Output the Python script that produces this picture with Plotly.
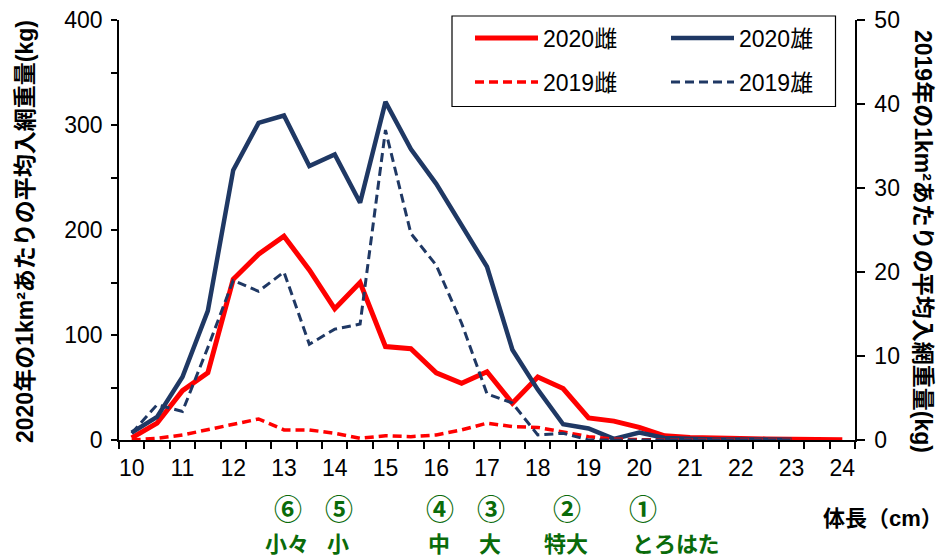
import plotly.graph_objects as go

# ---- data ----
length_cm = [10, 10.5, 11, 11.5, 12, 12.5, 13, 13.5, 14, 14.5, 15, 15.5, 16, 16.5,
             17, 17.5, 18, 18.5, 19, 19.5, 20, 20.5, 21, 21.5, 22, 22.5, 23, 23.5, 24]

female_2020 = [2, 16, 47, 64, 153, 177, 194, 162, 125, 150, 89, 87, 64, 54,
               65, 35, 60, 49, 21, 18, 12, 4, 2.5, 2.5, 1.5, 1, 0.5, 0.5, 0.3]
male_2020 = [7, 22, 60, 123, 257, 302, 309, 261, 272, 226, 322, 277, 244, 204,
             165, 86, 48, 15, 11, 1, 7, 2, 1, 0.5, 0.5, 0.3, 0.3, None, None]
female_2019 = [0, 0.2, 0.6, 1.2, 1.9, 2.5, 1.2, 1.2, 0.8, 0.2, 0.5, 0.4, 0.6, 1.2,
               2.0, 1.6, 1.5, 1.0, 0.4, 0.1, 0, 0, 0, 0, 0, 0, 0, None, None]
male_2019 = [0.8, 4.2, 3.4, 11, 19.0, 17.7, 20.0, 11.4, 13.2, 13.8, 36.9, 24.6, 20.8, 13.9,
             5.5, 4.4, 0.6, 0.8, 0, 0, 0, 0, 0, 0, 0, 0, 0, None, None]

x_ticks = list(range(10, 25))
x_labels = [str(v) for v in x_ticks]
y1_ticks = list(range(0, 401, 50))
y1_labels = [str(v) if v % 100 == 0 else "" for v in y1_ticks]
y2_ticks = list(range(0, 51, 10))
y2_labels = [str(v) for v in y2_ticks]

size_marks = ["⑥", "⑤", "④", "③", "②", "①"]
size_names = ["小々", "小", "中", "大", "特大", "とろはた"]
size_x = [13, 14, 16, 17, 18.5, 20]

RED = "#FF0000"
NAVY = "#1F3864"
GREEN = "#0A6B0A"
LATIN = "Liberation Sans, Arial, Noto Sans CJK JP, sans-serif"
CJK = "Liberation Sans, Noto Sans CJK JP, sans-serif"

fig = go.Figure()
fig.add_trace(go.Scatter(x=length_cm, y=female_2020, name="2020雌", mode="lines",
                         line=dict(color=RED, width=5), yaxis="y", legend="legend"))
fig.add_trace(go.Scatter(x=length_cm, y=male_2020, name="2020雄", mode="lines",
                         line=dict(color=NAVY, width=4.5), yaxis="y", legend="legend"))
fig.add_trace(go.Scatter(x=length_cm, y=female_2019, name="2019雌", mode="lines",
                         line=dict(color=RED, width=3.5, dash="9px,5px"), yaxis="y2", legend="legend2"))
fig.add_trace(go.Scatter(x=length_cm, y=male_2019, name="2019雄", mode="lines",
                         line=dict(color=NAVY, width=3, dash="9px,5px"), yaxis="y2", legend="legend2"))

W, H = 942, 559
L, R, T, B = 119, 87, 20, 119
pw, ph = W - L - R, H - T - B


def px_x(p):
    return (p - L) / pw


def px_y(p):
    return (H - B - p) / ph


annotations = [
    dict(text="2020年の1km²あたりの平均入網重量(kg)", xref="paper", yref="paper",
         x=px_x(25), y=px_y(232), textangle=-90, showarrow=False,
         xanchor="center", yanchor="middle",
         font=dict(family=CJK, size=23, color="black", weight="bold")),
    dict(text="2019年の1km²あたりの平均入網重量(kg)", xref="paper", yref="paper",
         x=px_x(923), y=px_y(241), textangle=90, showarrow=False,
         xanchor="center", yanchor="middle",
         font=dict(family=CJK, size=23, color="black", weight="bold")),
    dict(text="体長（cm）", xref="paper", yref="paper", x=px_x(883), y=px_y(518),
         showarrow=False, xanchor="center", yanchor="middle",
         font=dict(family=CJK, size=22, color="black", weight="bold")),
]
for mark, name, xv in zip(size_marks, size_names, size_x):
    annotations.append(dict(text=mark, xref="x", yref="paper", x=xv, y=px_y(507.5),
                            showarrow=False, xanchor="center", yanchor="middle", xshift=4,
                            font=dict(family="Noto Sans CJK JP", size=28, color=GREEN, weight="bold")))
    if name == "とろはた":
        annotations.append(dict(text=name, xref="x", yref="paper", x=xv, y=px_y(542),
                                showarrow=False, xanchor="left", yanchor="middle", xshift=-9,
                                font=dict(family="Noto Sans CJK JP", size=22, color=GREEN, weight="bold")))
    else:
        annotations.append(dict(text=name, xref="x", yref="paper", x=xv, y=px_y(542),
                                showarrow=False, xanchor="center", yanchor="middle", xshift=3,
                                font=dict(family="Noto Sans CJK JP", size=22, color=GREEN, weight="bold")))

fig.update_layout(
    width=W, height=H,
    margin=dict(l=L, r=R, t=T, b=B, autoexpand=False),
    paper_bgcolor="white", plot_bgcolor="white",
    xaxis=dict(range=[9.75, 24.25], tickmode="array", tickvals=x_ticks, ticktext=x_labels,
               ticks="outside", ticklen=7, tickcolor="rgba(0,0,0,0)", automargin=False,
               minor=dict(tick0=9.75, dtick=0.5, ticks="outside", ticklen=7,
                          tickcolor="black", tickwidth=1.5),
               showline=True, linecolor="black", linewidth=1.5, showgrid=False, zeroline=False,
               tickfont=dict(family=LATIN, size=23, color="black")),
    yaxis=dict(range=[0, 400], tickmode="array", tickvals=y1_ticks, ticktext=y1_labels,
               ticks="outside", ticklen=6, tickwidth=1.5, tickcolor="black", automargin=False,
               ticklabelstandoff=4,
               showline=True, linecolor="black", linewidth=1.5, showgrid=False, zeroline=False,
               tickfont=dict(family=LATIN, size=23, color="black")),
    yaxis2=dict(range=[0, 50], overlaying="y", side="right", tickmode="array",
                tickvals=y2_ticks, ticktext=y2_labels, automargin=False,
                ticks="outside", ticklen=8, tickwidth=1.5, tickcolor="black",
                ticklabelstandoff=5,
                showline=True, linecolor="black", linewidth=1.5, showgrid=False, zeroline=False,
                tickfont=dict(family=LATIN, size=23, color="black")),
    legend=dict(orientation="h", x=px_x(470), y=px_y(38), xanchor="left", yanchor="middle",
                itemwidth=63, entrywidth=118, bgcolor="rgba(0,0,0,0)",
                font=dict(family=CJK, size=23, color="black")),
    legend2=dict(orientation="h", x=px_x(470), y=px_y(82), xanchor="left", yanchor="middle",
                 itemwidth=63, entrywidth=118, bgcolor="rgba(0,0,0,0)",
                 font=dict(family=CJK, size=23, color="black")),
    shapes=[dict(type="rect", xref="paper", yref="paper",
                 x0=px_x(452), x1=px_x(835.5), y0=px_y(106.5), y1=px_y(16),
                 line=dict(color="black", width=1.2), fillcolor="rgba(0,0,0,0)", layer="above")],
    annotations=annotations,
    showlegend=True,
)

fig.write_html("out.html", config={"displayModeBar": False},
               post_script="document.body.style.margin='0px';document.body.style.padding='0px';")
